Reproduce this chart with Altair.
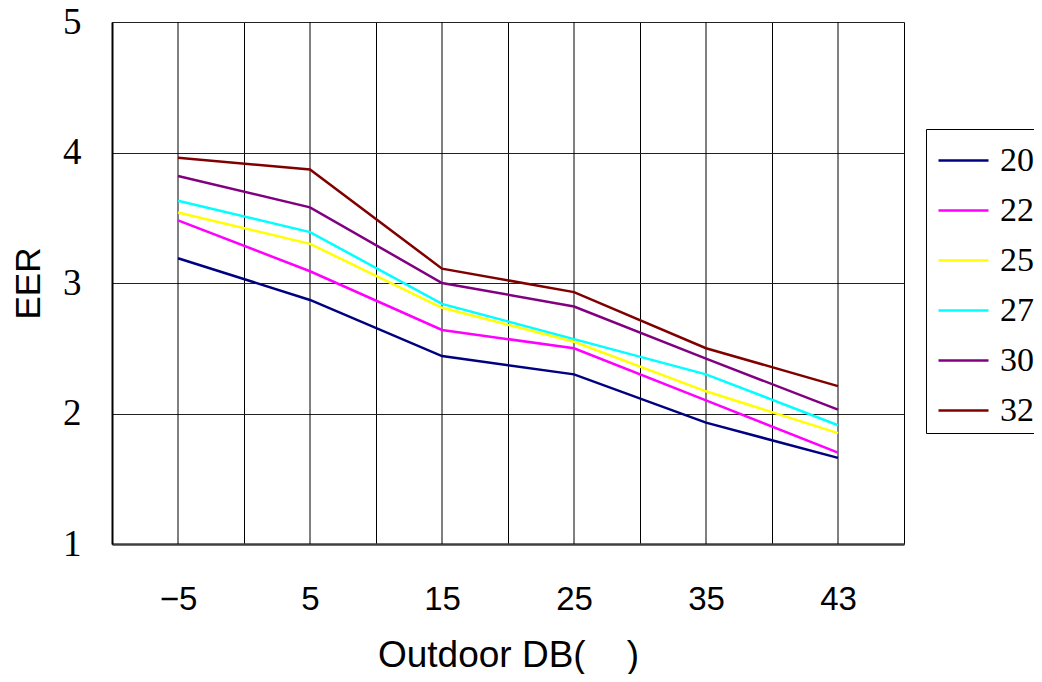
import altair as alt
import pandas as pd

# categories (outdoor dry-bulb temperature)
categories = ["\u22125", "5", "15", "25", "35", "43"]
series_names = ["20", "22", "25", "27", "30", "32"]
series_colors = ["#000080", "#FF00FF", "#FFFF00", "#00FFFF", "#800080", "#800000"]

eer_20 = [3.19, 2.87, 2.44, 2.30, 1.93, 1.66]
eer_22 = [3.48, 3.09, 2.64, 2.50, 2.10, 1.70]
eer_25 = [3.54, 3.30, 2.81, 2.55, 2.17, 1.85]
eer_27 = [3.63, 3.39, 2.84, 2.57, 2.30, 1.91]
eer_30 = [3.82, 3.58, 3.00, 2.82, 2.42, 2.03]
eer_32 = [3.96, 3.87, 3.11, 2.93, 2.50, 2.21]

all_series = [eer_20, eer_22, eer_25, eer_27, eer_30, eer_32]
rows = []
for name, vals in zip(series_names, all_series):
    for c, v in zip(categories, vals):
        rows.append({"T": c, "series": name, "EER": v})
df = pd.DataFrame(rows)
cat_df = pd.DataFrame({"T": categories})

x_scale = alt.Scale(domain=categories, paddingInner=0, paddingOuter=0)

x_enc = alt.X(
    "T:N",
    scale=x_scale,
    sort=categories,
    axis=alt.Axis(
        title="Outdoor DB(\u00a0\u00a0\u00a0\u00a0)",
        labelAngle=0,
        labelAlign="center",
        ticks=False,
        grid=True,
        tickBand="extent",
        gridColor="#000000",
        gridWidth=1,
        gridOpacity=1,
        domainColor="#404040",
        domainWidth=2.5,
        labelFont="Liberation Sans Narrow, Arial Narrow, Liberation Sans",
        labelFontSize=33,
        labelColor="#000000",
        labelPadding=55,
        labelBaseline="middle",
        titleFont="Liberation Sans",
        titleFontSize=37,
        titleFontWeight="normal",
        titleColor="#000000",
        titleBaseline="middle",
        titleY=111,
    ),
)

y_enc = alt.Y(
    "EER:Q",
    scale=alt.Scale(domain=[1, 5], nice=False, zero=False),
    axis=alt.Axis(
        title="EER",
        values=[1, 2, 3, 4, 5],
        ticks=False,
        grid=True,
        gridColor="#222222",
        gridWidth=1,
        gridOpacity=1,
        domainColor="#000000",
        domainWidth=2,
        labelFont="Liberation Serif",
        labelFontSize=37,
        labelColor="#000000",
        labelPadding=31,
        titleFont="Liberation Sans",
        titleFontSize=35,
        titleFontWeight="normal",
        titleColor="#000000",
        titleAngle=-90,
        titleAlign="center",
        titleBaseline="middle",
        titleX=-84,
        titleY=261,
    ),
)

lines = alt.Chart(df).mark_line(strokeWidth=2.5).encode(
    x=x_enc,
    y=y_enc,
    color=alt.Color(
        "series:N",
        sort=series_names,
        scale=alt.Scale(domain=series_names, range=series_colors),
        legend=alt.Legend(
            title=None,
            orient="none",
            direction="vertical",
            legendX=814,
            legendY=107,
            strokeColor="#000000",
            padding=5,
            symbolType="stroke",
            symbolSize=2500,
            symbolStrokeWidth=2.5,
            symbolOffset=6,
            labelFont="Liberation Serif",
            labelFontSize=34,
            labelColor="#000000",
            labelOffset=10,
            rowPadding=6,
        ),
    ),
)

center_rules = alt.Chart(cat_df).mark_rule(color="#000000", strokeWidth=1).encode(
    x=alt.X("T:N", scale=x_scale, sort=categories),
)

chart = (
    alt.layer(center_rules, lines)
    .properties(
        width=792,
        height=522,
        autosize=alt.AutoSizeParams(type="none"),
        padding={"left": 104, "top": 14, "right": 130, "bottom": 130},
    )
    .configure_view(stroke="#888888", strokeWidth=2)
    .configure(background="#ffffff")
)

chart.save("out.html", embed_options={"renderer": "svg", "actions": False})
